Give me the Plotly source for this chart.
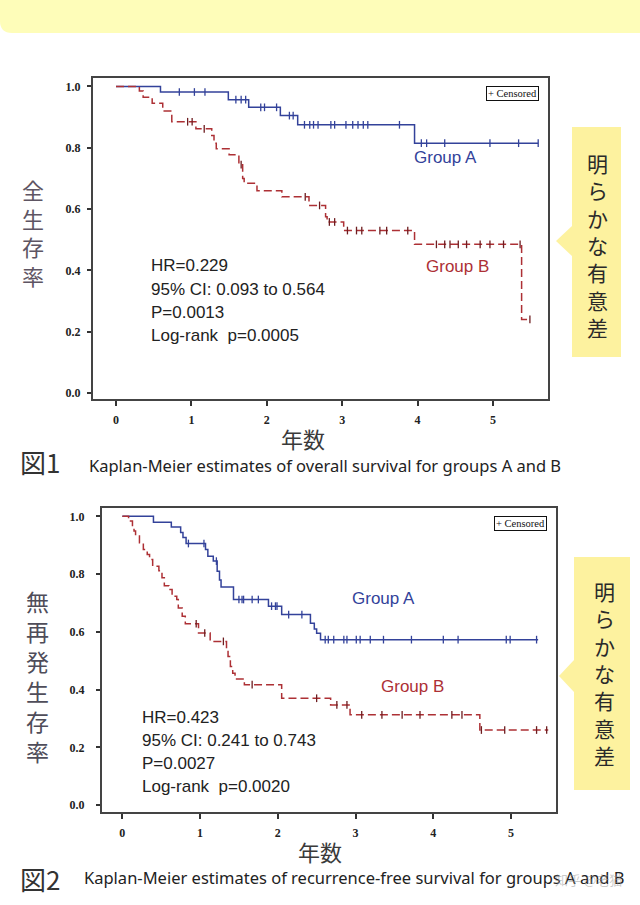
import plotly.graph_objects as go
import numpy as np

W, H = 640, 905

# ---------------- data ----------------
# Figure 1: overall survival
os_a_times = [0, 0.59, 1.49, 1.76, 2.18, 2.41, 3.96]
os_a_surv = [1.0, 0.982, 0.957, 0.932, 0.905, 0.875, 0.815]
os_a_end = 5.60
os_a_cens = [0.84, 1.04, 1.18, 1.59, 1.66, 1.72, 1.92, 1.97, 2.13, 2.30, 2.35,
             2.50, 2.57, 2.62, 2.68, 2.85, 2.90, 3.05, 3.14, 3.21, 3.28, 3.34,
             3.76, 4.05, 4.12, 4.36, 4.96, 5.34, 5.60]

os_b_times = [0, 0.31, 0.36, 0.48, 0.62, 0.74, 1.06, 1.27, 1.30, 1.33, 1.50,
              1.63, 1.68, 1.70, 1.87, 2.20, 2.56, 2.78, 2.80, 3.02, 3.96, 5.38]
os_b_surv = [1.0, 0.985, 0.965, 0.945, 0.92, 0.885, 0.862, 0.84, 0.815, 0.797,
             0.777, 0.745, 0.70, 0.684, 0.66, 0.64, 0.612, 0.575, 0.558, 0.53,
             0.485, 0.24]
os_b_end = 5.50
os_b_cens = [0.95, 1.01, 1.17, 1.66, 2.51, 2.70, 2.83, 2.90, 3.07, 3.19, 3.26,
             3.50, 3.59, 3.87, 4.25, 4.36, 4.43, 4.54, 4.65, 4.83, 4.96, 5.14,
             5.36, 5.49]

# Figure 2: recurrence-free survival
rfs_a_times = [0, 0.40, 0.63, 0.75, 0.78, 0.82, 1.07, 1.10, 1.17, 1.22, 1.25,
               1.27, 1.43, 1.88, 2.05, 2.42, 2.47, 2.50, 2.55]
rfs_a_surv = [1.0, 0.98, 0.963, 0.944, 0.927, 0.906, 0.885, 0.862, 0.845, 0.81,
              0.78, 0.755, 0.712, 0.689, 0.66, 0.63, 0.61, 0.595, 0.573]
rfs_a_end = 5.35
rfs_a_cens = [0.85, 1.05, 1.21, 1.50, 1.54, 1.56, 1.67, 1.75, 1.92, 1.97, 1.99,
              2.14, 2.31, 2.61, 2.65, 2.72, 2.85, 2.89, 3.01, 3.06, 3.19, 3.36,
              3.72, 4.13, 4.32, 4.94, 4.99, 5.33]

rfs_b_times = [0, 0.08, 0.13, 0.15, 0.17, 0.22, 0.27, 0.32, 0.35, 0.39, 0.47,
               0.51, 0.54, 0.60, 0.64, 0.70, 0.72, 0.77, 0.81, 0.98, 1.13, 1.34,
               1.36, 1.39, 1.42, 1.45, 1.57, 2.05, 2.68, 2.93, 4.60]
rfs_b_surv = [1.0, 0.984, 0.965, 0.949, 0.932, 0.909, 0.885, 0.868, 0.851, 0.827,
              0.812, 0.787, 0.760, 0.747, 0.723, 0.712, 0.683, 0.654, 0.628,
              0.596, 0.567, 0.538, 0.515, 0.48, 0.457, 0.437, 0.417, 0.37,
              0.347, 0.3125, 0.26]
rfs_b_end = 5.48
rfs_b_cens = [0.95, 1.06, 1.30, 1.67, 2.50, 2.76, 2.89, 3.08, 3.34, 3.60, 3.83,
              4.24, 4.37, 4.62, 4.92, 5.33, 5.46]

x_ticks = [0, 1, 2, 3, 4, 5]
y_ticks = [0.0, 0.2, 0.4, 0.6, 0.8, 1.0]
y_ticktext = ["0.0", "0.2", "0.4", "0.6", "0.8", "1.0"]

stats1 = ["HR=0.229", "95% CI: 0.093 to 0.564", "P=0.0013", "Log-rank  p=0.0005"]
stats2 = ["HR=0.423", "95% CI: 0.241 to 0.743", "P=0.0027", "Log-rank  p=0.0020"]
caption1 = "Kaplan-Meier estimates of overall survival for groups A and B"
caption2 = "Kaplan-Meier estimates of recurrence-free survival for groups A and B"

BLUE = "#33429a"
RED = "#ad3035"
RED_C = "#6e1d20"


def PX(x):
    return x / W


def PY(y):
    return 1 - y / H


def step_at(times, surv, t):
    i = int(np.searchsorted(times, t, side="right")) - 1
    return surv[i]


fig = go.Figure()


def add_km(times, surv, end, cens, color, dash, ccolor, xa, ya):
    fig.add_trace(go.Scatter(
        x=list(times) + [end], y=list(surv) + [surv[-1]], mode="lines",
        line=dict(color=color, width=1.5, dash=dash, shape="hv"),
        xaxis=xa, yaxis=ya, hoverinfo="skip"))
    fig.add_trace(go.Scatter(
        x=cens, y=[step_at(times, surv, t) for t in cens], mode="markers",
        marker=dict(symbol="line-ns", size=5.5, line=dict(width=1.3, color=ccolor)),
        xaxis=xa, yaxis=ya, hoverinfo="skip"))


add_km(os_a_times, os_a_surv, os_a_end, os_a_cens, BLUE, "solid", BLUE, "x", "y")
add_km(os_b_times, os_b_surv, os_b_end, os_b_cens, RED, "8px,4px", RED_C, "x", "y")
add_km(rfs_a_times, rfs_a_surv, rfs_a_end, rfs_a_cens, BLUE, "solid", BLUE, "x2", "y2")
add_km(rfs_b_times, rfs_b_surv, rfs_b_end, rfs_b_cens, RED, "8px,4px", RED_C, "x2", "y2")

tickfont = dict(family="Liberation Serif", size=12, color="#222", weight="bold")
xa_common = dict(tickvals=x_ticks, ticks="outside", ticklen=5, tickwidth=1.5,
                 tickcolor="#333", showline=True, linecolor="#444", linewidth=2,
                 mirror=True, showgrid=False, zeroline=False, tickfont=tickfont,
                 ticklabelstandoff=4, fixedrange=True)
ya_common = dict(tickvals=y_ticks, ticktext=y_ticktext, ticks="outside", ticklen=4,
                 tickwidth=1.5, tickcolor="#333", showline=True, linecolor="#444",
                 linewidth=2, mirror=True, showgrid=False, zeroline=False,
                 tickfont=tickfont, fixedrange=True)

fig.update_layout(
    width=W, height=H, margin=dict(l=0, r=0, t=0, b=0), autosize=False,
    paper_bgcolor="white", plot_bgcolor="white", showlegend=False,
    xaxis=dict(domain=[PX(93), PX(548)], range=[-0.305, 5.73], anchor="y", **xa_common),
    yaxis=dict(domain=[PY(399), PY(78)], range=[-0.0196, 1.0277], anchor="x",
               ticklabelstandoff=4, **ya_common),
    xaxis2=dict(domain=[PX(102), PX(556)], range=[-0.262, 5.58], anchor="y2", **xa_common),
    yaxis2=dict(domain=[PY(812), PY(508)], range=[-0.024, 1.029], anchor="x2",
                ticklabelstandoff=9, **ya_common),
)

shapes = []
# top banner
shapes.append(dict(type="path", xref="paper", yref="paper",
                   path=f"M 0 {PY(0)} L 1 {PY(0)} L 1 {PY(33)} L {PX(12)} {PY(33)} "
                        f"Q {PX(0)} {PY(33)} {PX(0)} {PY(21)} Z",
                   fillcolor="#fefdb9", line=dict(width=0), layer="below"))


def callout(x0, x1, y0, y1, tipx, tipy, half):
    return dict(type="path", xref="paper", yref="paper",
                path=(f"M {PX(x0)} {PY(y0)} L {PX(x1)} {PY(y0)} L {PX(x1)} {PY(y1)} "
                      f"L {PX(x0)} {PY(y1)} L {PX(x0)} {PY(tipy + half)} "
                      f"L {PX(tipx)} {PY(tipy)} L {PX(x0)} {PY(tipy - half)} Z"),
                fillcolor="#fdf29f", line=dict(width=0), layer="below")


shapes.append(callout(572, 621, 127, 357, 556, 241, 15))
shapes.append(callout(574, 630, 557, 790, 559, 676, 16))
fig.update_layout(shapes=shapes)

ann = []


def text(x, y, s, size, color="#222", family="Liberation Sans", xanchor="center", **kw):
    ann.append(dict(xref="paper", yref="paper", x=PX(x), y=PY(y), text=s,
                    showarrow=False, xanchor=xanchor, yanchor="middle",
                    font=dict(family=family, size=size, color=color), **kw))


for i, s in enumerate(stats1):
    text(149, [265, 289, 312, 335][i], s, 17, xanchor="left")
for i, s in enumerate(stats2):
    text(140, [717, 740, 763, 786][i], s, 17, xanchor="left")

text(445, 158, "Group A", 17, BLUE)
text(457, 266, "Group B", 17, RED)
text(383, 598, "Group A", 17, BLUE)
text(412, 686, "Group B", 17, RED)

text(512, 93, "+ Censored", 10.5, "#111", "Liberation Serif",
     bordercolor="#111", borderwidth=1, borderpad=1, bgcolor="white")
text(520, 523, "+ Censored", 10.5, "#111", "Liberation Serif",
     bordercolor="#111", borderwidth=1, borderpad=1, bgcolor="white")

CJK = "Noto Sans CJK JP"
text(33, 232, "<br>".join("全生存率"), 22, "#5e5563", CJK)
text(37, 676, "<br>".join("無再発生存率"), 23, "#4f4d5a", CJK)
text(303, 438, "年数", 22, "#3a3a3a", CJK)
text(320, 851, "年数", 22, "#3a3a3a", CJK)

text(597, 245, "<br>".join("明らかな有意差"), 21, "#2a2a2a", CJK)
text(604, 673, "<br>".join("明らかな有意差"), 21, "#2a2a2a", CJK)

text(18, 461, "図1", 26, "#333", CJK, xanchor="left")
text(18, 878, "図2", 26, "#333", CJK, xanchor="left")
text(87, 465, caption1, 16.5, "#222", "Noto Sans", xanchor="left")
text(82, 877, caption2, 16.5, "#222", "Noto Sans", xanchor="left")
text(588, 879, "知乎 @老猫", 13, "rgba(150,150,150,0.5)", CJK)

fig.update_layout(annotations=ann)
fig.write_html("out.html")
